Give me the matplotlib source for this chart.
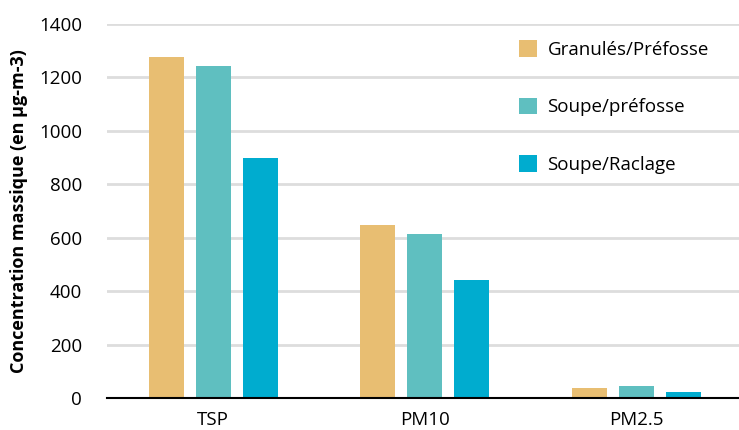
import numpy as np
import matplotlib.pyplot as plt

plt.rcParams['font.family'] = ['Open Sans', 'DejaVu Sans']

categories = ["TSP", "PM10", "PM2.5"]
series_names = ["Granulés/Préfosse", "Soupe/préfosse", "Soupe/Raclage"]
granules = [1277, 648, 37]
soupe_prefosse = [1243, 614, 45]
soupe_raclage = [900, 442, 22]
colors = ["#E8BE72", "#5FBFC0", "#00ACCF"]
yticks = [0, 200, 400, 600, 800, 1000, 1200, 1400]

fig = plt.figure(figsize=(7.39, 4.30), dpi=100)
ax = fig.add_axes([0.145, 0.0744, 0.86, 0.870])

x = np.arange(len(categories))
w = 0.165
off = 0.222
for i, (vals, name) in enumerate(zip([granules, soupe_prefosse, soupe_raclage], series_names)):
    ax.bar(x + (i - 1) * off, vals, width=w, color=colors[i], label=name, zorder=3)

ax.set_xlim(-0.5, 2.5)
ax.set_ylim(0, 1400)
ax.set_yticks(yticks)
ax.set_xticks(x)
ax.set_xticklabels(categories, fontsize=13.5)
ax.tick_params(axis='y', labelsize=13.5, length=0, pad=18)
ax.tick_params(axis='x', length=0, pad=9)
ax.yaxis.grid(True, color="#DDDDDD", linewidth=2, zorder=0)
ax.set_axisbelow(True)
for s in ["top", "right", "left"]:
    ax.spines[s].set_visible(False)
ax.spines["bottom"].set_linewidth(1.5)
ax.spines["bottom"].set_zorder(4)

ax.set_ylabel("Concentration massique (en µg-m-3)", fontsize=13, fontweight='bold', labelpad=8)

leg = fig.legend(loc='upper left', bbox_to_anchor=(510 / 739, 1 - 31 / 430), frameon=False,
                 fontsize=13.5, handlelength=0.95, handleheight=0.95, handletextpad=0.55,
                 labelspacing=2.08, borderpad=0)

fig.savefig("out.png", dpi=100)
